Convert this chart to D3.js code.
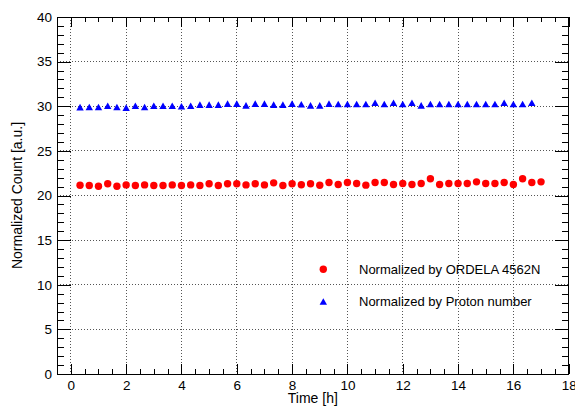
<!DOCTYPE html>
<html>
<head>
<meta charset="utf-8">
<script src="https://cdn.jsdelivr.net/npm/d3@7"></script>
<style>
  html, body { margin: 0; padding: 0; background: #fff; }
  svg { display: block; font-family: "Liberation Sans", Arial, Helvetica, sans-serif; }
</style>
</head>
<body>
<svg id="chart" width="575" height="412"></svg>
<script>
// ---- data ----
const seriesNames = ["Normalized by ORDELA 4562N", "Normalized by Proton number"];
const ordelaTimes = d3.range(1, 52).map(i => i / 3); // one point every 20 min
const ordelaValues = [
  21.15, 21.12, 21.04, 21.31, 21.04, 21.19, 21.12, 21.19, 21.12, 21.12,
  21.19, 21.12, 21.19, 21.12, 21.31, 21.12, 21.31, 21.31, 21.19, 21.31,
  21.19, 21.42, 21.12, 21.31, 21.20, 21.32, 21.15, 21.46, 21.23, 21.46,
  21.34, 21.16, 21.46, 21.46, 21.23, 21.34, 21.23, 21.34, 21.87, 21.23,
  21.34, 21.34, 21.34, 21.53, 21.34, 21.34, 21.46, 21.23, 21.87, 21.46,
  21.53
];
const protonTimes = d3.range(1, 51).map(i => i / 3);
const protonValues = [
  29.90, 29.92, 29.92, 30.05, 29.92, 29.85, 30.06, 29.92, 30.06, 30.06,
  30.06, 30.00, 30.06, 30.18, 30.18, 30.18, 30.29, 30.29, 30.10, 30.29,
  30.29, 30.18, 30.18, 30.29, 30.22, 30.10, 30.10, 30.29, 30.25, 30.25,
  30.25, 30.25, 30.40, 30.25, 30.40, 30.25, 30.40, 30.10, 30.25, 30.25,
  30.25, 30.25, 30.25, 30.25, 30.25, 30.25, 30.40, 30.25, 30.25, 30.40
];
const xMajorTicks = [0, 2, 4, 6, 8, 10, 12, 14, 16, 18];
const yMajorTicks = [0, 5, 10, 15, 20, 25, 30, 35, 40];
const xTitle = "Time [h]";
const yTitle = "Normalized Count [a.u.]";

// ---- layout ----
const W = 575, H = 412;
const m = { left: 57, top: 17, right: 6.3, bottom: 38 };
const iw = W - m.left - m.right, ih = H - m.top - m.bottom;

const svg = d3.select("#chart");
const g = svg.append("g").attr("transform", `translate(${m.left},${m.top})`);

const x = d3.scaleLinear().domain([-0.5, 18]).range([0, iw]);
const y = d3.scaleLinear().domain([0, 40]).range([ih, 0]);

const xMinor = d3.range(0.5, 18, 0.5).filter(v => Math.abs(v / 2 - Math.round(v / 2)) > 1e-6);
const yMinor = d3.range(1, 40, 1).filter(v => v % 5 !== 0);

// grid
g.append("g").selectAll("line").data(xMajorTicks.filter(v => v < 18)).join("line")
  .attr("x1", d => x(d)).attr("x2", d => x(d)).attr("y1", 0).attr("y2", ih)
  .attr("stroke", "#555").attr("stroke-width", 1).attr("stroke-dasharray", "1,2")
  .attr("shape-rendering", "crispEdges");
g.append("g").selectAll("line").data(yMajorTicks.filter(v => v > 0 && v < 40)).join("line")
  .attr("x1", 0).attr("x2", iw).attr("y1", d => y(d)).attr("y2", d => y(d))
  .attr("stroke", "#555").attr("stroke-width", 1).attr("stroke-dasharray", "1,2")
  .attr("shape-rendering", "crispEdges");

function styleAxis(sel) {
  sel.select(".domain").remove();
  sel.selectAll("line").attr("stroke", "#000").attr("shape-rendering", "crispEdges");
  sel.selectAll("text").attr("fill", "#000").style("font-size", "13.5px");
}

// bottom axis (labels, inward ticks)
g.append("g").attr("transform", `translate(0,${ih})`)
  .call(d3.axisBottom(x).tickValues(xMajorTicks).tickSizeInner(-10).tickSizeOuter(0).tickPadding(6).tickFormat(d3.format("d")))
  .call(styleAxis);
g.append("g").attr("transform", `translate(0,${ih})`)
  .call(d3.axisBottom(x).tickValues(xMinor).tickSizeInner(-5).tickSizeOuter(0).tickFormat(""))
  .call(styleAxis);
// top axis ticks
g.append("g")
  .call(d3.axisTop(x).tickValues(xMajorTicks).tickSizeInner(-10).tickSizeOuter(0).tickFormat(""))
  .call(styleAxis);
g.append("g")
  .call(d3.axisTop(x).tickValues(xMinor).tickSizeInner(-5).tickSizeOuter(0).tickFormat(""))
  .call(styleAxis);
// left axis
g.append("g")
  .call(d3.axisLeft(y).tickValues(yMajorTicks).tickSizeInner(-14).tickSizeOuter(0).tickPadding(5).tickFormat(d3.format("d")))
  .call(styleAxis);
g.append("g")
  .call(d3.axisLeft(y).tickValues(yMinor).tickSizeInner(-7).tickSizeOuter(0).tickFormat(""))
  .call(styleAxis);
// right axis
g.append("g").attr("transform", `translate(${iw},0)`)
  .call(d3.axisRight(y).tickValues(yMajorTicks).tickSizeInner(-14).tickSizeOuter(0).tickFormat(""))
  .call(styleAxis);
g.append("g").attr("transform", `translate(${iw},0)`)
  .call(d3.axisRight(y).tickValues(yMinor).tickSizeInner(-7).tickSizeOuter(0).tickFormat(""))
  .call(styleAxis);

// frame
g.append("rect").attr("x", 0).attr("y", 0).attr("width", iw).attr("height", ih)
  .attr("fill", "none").attr("stroke", "#000").attr("stroke-width", 1)
  .attr("shape-rendering", "crispEdges");

// markers
const triW = 7.4, triH = 6.6;
const triPath = `M${-triW/2},${triH/2}L${triW/2},${triH/2}L0,${-triH/2}Z`;

const ordela = ordelaTimes.map((t, i) => ({ t, v: ordelaValues[i] }));
const proton = protonTimes.map((t, i) => ({ t, v: protonValues[i] }));

g.append("g").selectAll("circle").data(ordela).join("circle")
  .attr("cx", d => x(d.t)).attr("cy", d => y(d.v)).attr("r", 3.7).attr("fill", "#ff0000");
g.append("g").selectAll("path").data(proton).join("path")
  .attr("transform", d => `translate(${x(d.t)},${y(d.v)})`).attr("d", triPath).attr("fill", "#0000ff");

// legend
const leg = svg.append("g");
leg.append("circle").attr("cx", 323.3).attr("cy", 269.3).attr("r", 3.7).attr("fill", "#ff0000");
leg.append("text").attr("x", 359).attr("y", 273.8).text(seriesNames[0])
  .style("font-size", "13px").attr("fill", "#000");
leg.append("path").attr("transform", "translate(323.3,301.5)").attr("d", triPath).attr("fill", "#0000ff");
leg.append("text").attr("x", 359).attr("y", 305.8).text(seriesNames[1])
  .style("font-size", "13px").attr("fill", "#000");

// axis titles
svg.append("text").attr("x", m.left + iw / 2).attr("y", 403).attr("text-anchor", "middle")
  .style("font-size", "14px").text(xTitle);
svg.append("text").attr("transform", `translate(22,${m.top + ih / 2}) rotate(-90)`)
  .attr("text-anchor", "middle").style("font-size", "14px").text(yTitle);
</script>
</body>
</html>
